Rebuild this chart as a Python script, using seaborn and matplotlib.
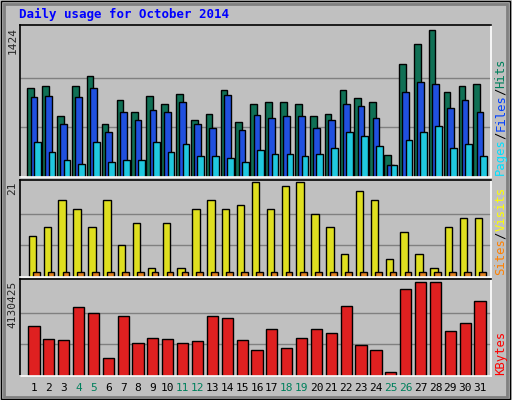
import numpy as np
import matplotlib
matplotlib.use("Agg")
import matplotlib.pyplot as plt
import seaborn as sns

days = np.arange(1, 32)
weekend = [4, 5, 11, 12, 18, 19, 25, 26]

hits = [851, 870, 583, 870, 965, 507, 736, 621, 774, 698, 793, 545, 602, 831, 526, 698,
        717, 717, 698, 583, 602, 831, 755, 717, 210, 1080, 1271, 1405, 812, 870, 889]
files = [765, 774, 507, 765, 851, 430, 621, 545, 640, 621, 717, 507, 468, 784, 449, 593,
         564, 583, 583, 468, 545, 698, 679, 564, 115, 812, 908, 889, 659, 736, 621]
pages = [334, 239, 162, 124, 334, 143, 162, 162, 334, 239, 315, 201, 201, 182, 143, 258,
         220, 220, 201, 220, 277, 430, 392, 296, 115, 354, 430, 487, 277, 315, 201]
visits = [9, 11, 17, 15, 11, 17, 7, 12, 2, 12, 2, 15, 17, 15, 16, 21,
          15, 20, 21, 14, 11, 5, 19, 17, 4, 10, 5, 2, 11, 13, 13]
sites = [1] * 31
kbytes = [2150000, 1620000, 1580000, 3000000, 2750000, 800000, 2600000, 1420000, 1670000,
          1620000, 1420000, 1510000, 2600000, 2510000, 1560000, 1110000, 2040000, 1200000,
          1670000, 2040000, 1870000, 3050000, 1330000, 1150000, 180000, 3800000, 4080000,
          4080000, 1950000, 2310000, 3240000]

sns.set_style("white")
plt.rcParams['font.family'] = ['DejaVu Sans Mono']

fig = plt.figure(figsize=(5.12, 4.0), dpi=100)
fig.patch.set_facecolor('#c0c0c0')
fig.text(0.037, 0.963, "Daily usage for October 2014", color='#0000ff',
         fontsize=9, fontweight='bold', va='center')

xl = (0.06, 31.74)
panels = [
    (0.5575, 0.38, 1424, "1424"),
    (0.3075, 0.2425, 21, "21"),
    (0.06, 0.2425, 4130425, "4130425"),
]
axes = []
for bottom, h, top, lab in panels:
    ax = fig.add_axes([0.039, bottom, 0.92, h])
    ax.set_facecolor('#c0c0c0')
    for f in (1 / 3, 2 / 3):
        ax.axhline(top * f, color='#808080', lw=1, zorder=0)
    for s in ax.spines.values():
        s.set_color('black')
        s.set_linewidth(1.2)
    ax.spines['right'].set_color('white')
    ax.spines['bottom'].set_color('white')
    fig.text(0.024, bottom + h - 0.005, lab, rotation=90, ha='center', va='top', fontsize=8)
    axes.append(ax)

ax1, ax2, ax3 = axes
kw = dict(edgecolor='black', linewidth=1, native_scale=True, width=0.45, legend=False)
sns.barplot(x=days - 0.22, y=hits, color='#00805c', ax=ax1, **kw)
sns.barplot(x=days, y=files, color='#0040ff', ax=ax1, **kw)
sns.barplot(x=days + 0.22, y=pages, color='#00e0ff', ax=ax1, **kw)
sns.barplot(x=days - 0.1, y=visits, color='#ffff00', ax=ax2, edgecolor='black', linewidth=1,
            native_scale=True, width=0.5, legend=False)
sns.barplot(x=days + 0.15, y=sites, color='#ff8000', ax=ax2, edgecolor='black', linewidth=1,
            native_scale=True, width=0.45, legend=False)
sns.barplot(x=days, y=kbytes, color='#ff0000', ax=ax3, edgecolor='black', linewidth=1,
            native_scale=True, width=0.75, legend=False)
for ax, top in zip(axes, [1424, 21, 4130425]):
    ax.set_xlim(*xl)
    ax.set_ylim(0, top * 1.02)
    ax.set_xticks([])
    ax.set_xlabel('')
    ax.set_ylabel('')
    ax.set_yticks([])

# day labels
for d in days:
    x = 0.039 + 0.92 * (d - xl[0]) / (xl[1] - xl[0])
    fig.text(x, 0.03, str(d), ha='center', va='center', fontsize=8,
             color='#00805c' if d in weekend else 'black')

# right side legends, read bottom to top
char_h = 7.3 / 400

def vlabel(y, parts):
    for txt, c in parts:
        fig.text(0.978, y, txt, rotation=90, color=c, fontsize=8.8,
                 ha='center', va='bottom', rotation_mode='default')
        y += len(txt) * char_h

vlabel(0.562, [("Pages", '#00e0ff'), ("/", 'black'), ("Files", '#0040ff'),
               ("/", 'black'), ("Hits", '#00805c')])
vlabel(0.312, [("Sites", '#ff8000'), ("/", 'black'), ("Visits", '#ffff00')])
vlabel(0.062, [("KBytes", '#ff0000')])

# frame
fig.add_artist(plt.Rectangle((0.002, 0.003), 0.994, 0.994, fill=False, ec='black', lw=1,
                             transform=fig.transFigure))
fig.add_artist(plt.Rectangle((0.008, 0.008), 0.982, 0.982, fill=False, ec='#808080', lw=2,
                             transform=fig.transFigure))
fig.savefig("out.png", dpi=100, facecolor=fig.get_facecolor())
